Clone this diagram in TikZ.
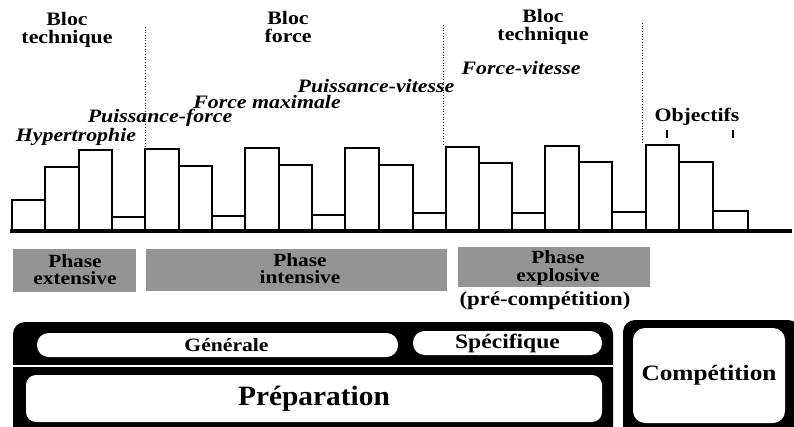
\documentclass[tikz,border=0pt]{standalone}
\usepackage{fontspec}
\setmainfont{Liberation Serif}
\newcommand{\sx}[1]{\scalebox{1.15}[1]{#1}}
\newcommand{\two}[2]{\sx{\begin{tabular}{@{}c@{}}#1\\#2\end{tabular}}}
\tikzset{
  bar/.style={draw=black, line width=2.4pt, fill=white},
  txt/.style={inner sep=0pt, align=center, font=\fontsize{19}{15.5}\selectfont\bfseries},
  itxt/.style={inner sep=0pt, align=center, font=\fontsize{19}{15.5}\selectfont\bfseries\itshape},
  phasebox/.style={fill=black!42, draw=none, inner sep=0pt, align=center, font=\fontsize{18.6}{15}\selectfont\bfseries},
  pill/.style={fill=white, draw=none, rounded corners=11.5pt, inner sep=0pt},
  divider/.style={dotted, line width=0.7pt},
}
\begin{document}
\begin{tikzpicture}[x=1pt,y=-1pt]
\useasboundingbox (0,0) rectangle (794,427);
\clip (0,0) rectangle (794,427);
% bars
\def\base{230}
\foreach \xa/\xb/\t in {12/45/200,45/79/167,79/112/150,112/145/217,
  145/179/149,179/212/166,212/245/216,245/279/148,279/312/165,312/345/215,
  345/379/148,379/413/165,413/446/213,446/479/147,479/512/163,512/545/213,
  545/579/146,579/612/162,612/646/212,646/679/145,679/713/162,713/748/211}
  {\draw[bar] (\xa,\base) rectangle (\xb,\t);}
\draw[line width=4pt] (10,\base+1) -- (792,\base+1);
% dotted dividers
\draw[divider] (145,27) -- (145,147);
\draw[divider] (443,25) -- (443,146);
\draw[divider] (642,23) -- (642,144);
% bloc labels
\node[txt] (bt1) at (67,30) {\two{Bloc}{technique}};
\node[txt] (bf) at (288,29) {\two{Bloc}{force}};
\node[txt] (bt2) at (543,27) {\two{Bloc}{technique}};
% italic labels
\node[itxt] (hyp) at (76,137) {\sx{Hypertrophie}};
\node[itxt] (pf) at (160,118) {\sx{Puissance-force}};
\node[itxt] (fm) at (267,102) {\sx{Force maximale}};
\node[itxt] (pv) at (376,86) {\sx{Puissance-vitesse}};
\node[itxt] (fv) at (521,68) {\sx{Force-vitesse}};
% objectifs
\node[txt] (obj) at (697,117) {\sx{Objectifs}};
\draw[line width=1.3pt] (667,130) -- (667,138);
\draw[line width=1.3pt] (733,130) -- (733,138);
% phases
\path[phasebox] (13,249) rectangle (136,292);
\node[phasebox, fill=none] (pe) at (75,272) {\two{Phase}{extensive}};
\path[phasebox] (146,249) rectangle (447,291);
\node[phasebox, fill=none] (pi) at (300,271) {\two{Phase}{intensive}};
\path[phasebox] (458,247) rectangle (650,287);
\node[phasebox, fill=none] (px) at (558,268.5) {\two{Phase}{explosive}};
\node[txt, font=\fontsize{19.8}{16}\selectfont\bfseries] (pc) at (545,301) {\sx{(pré-compétition)}};
% preparation block
\fill[black, rounded corners=12pt] (13,322) rectangle (613,440);
\draw[white, line width=1.6pt] (13,366) -- (613,366);
\node[pill, minimum width=361pt, minimum height=24pt, font=\fontsize{18.8}{16}\selectfont\bfseries] (gen) at (217.5,345) {\hspace*{18pt}\sx{Générale}};
\node[pill, minimum width=189pt, minimum height=24pt, font=\fontsize{20.5}{16}\selectfont\bfseries] (spe) at (507.5,343) {\raisebox{-1.5pt}{\sx{Spécifique}}};
\node[pill, rounded corners=10pt, minimum width=576pt, minimum height=47pt, font=\fontsize{28}{28}\selectfont\bfseries] (prep) at (314,398.5) {\scalebox{1.05}[1]{Préparation}};
% competition block
\fill[black, rounded corners=12pt] (623,320) rectangle (800,440);
\node[pill, rounded corners=12pt, minimum width=152pt, minimum height=95pt, font=\fontsize{22}{20}\selectfont\bfseries] (comp) at (709,375.5) {\raisebox{3pt}{\sx{Compétition}}};
\end{tikzpicture}
\end{document}
